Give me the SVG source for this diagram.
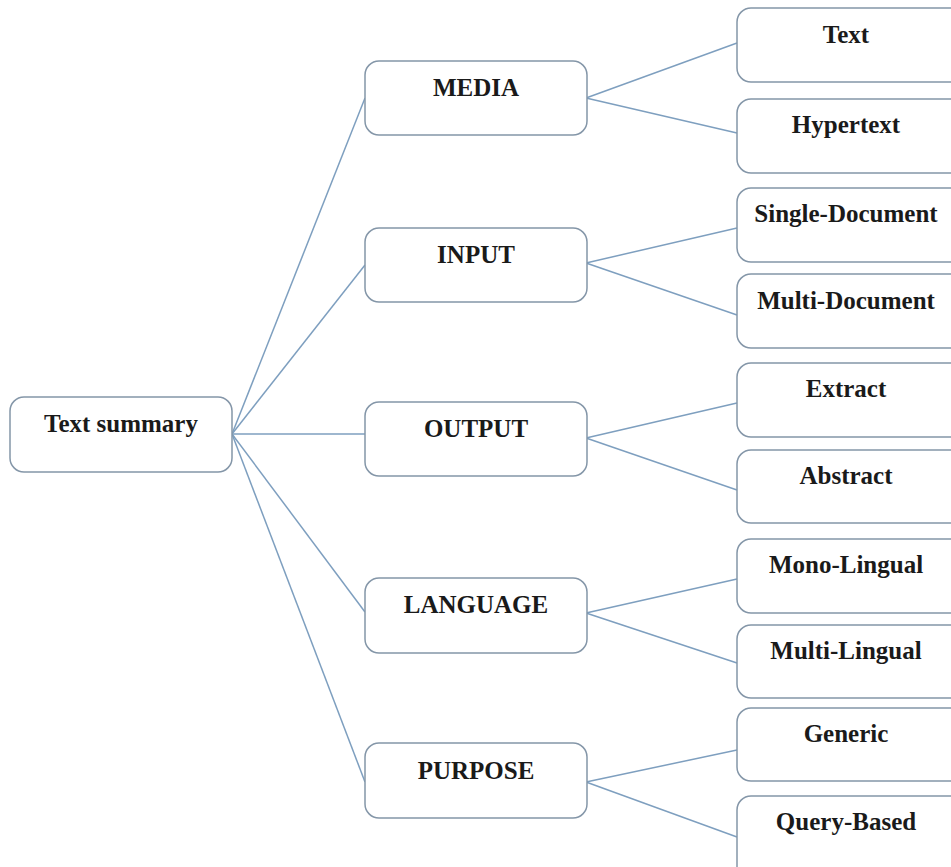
<svg xmlns="http://www.w3.org/2000/svg" width="951" height="867" viewBox="0 0 951 867">
  <style>
    .box { fill: #ffffff; stroke: #8496a8; stroke-width: 1.5; }
    .edge { fill: none; stroke: #7e9fbf; stroke-width: 1.5; }
    .label { font-family: "Liberation Serif", "Times New Roman", serif; font-weight: bold; font-size: 25px; fill: #1a1a1a; text-anchor: middle; }
  </style>
  <rect x="0" y="0" width="951" height="867" fill="#ffffff"/>

  <!-- connectors -->
  <g id="connectors">
    <line class="edge" x1="232" y1="434" x2="365" y2="98"/>
    <line class="edge" x1="232" y1="434" x2="365" y2="265"/>
    <line class="edge" x1="232" y1="434" x2="365" y2="434"/>
    <line class="edge" x1="232" y1="434" x2="365" y2="612"/>
    <line class="edge" x1="232" y1="434" x2="365" y2="782"/>

    <line class="edge" x1="586" y1="98" x2="737" y2="43"/>
    <line class="edge" x1="586" y1="98" x2="737" y2="133"/>
    <line class="edge" x1="586" y1="263" x2="737" y2="228"/>
    <line class="edge" x1="586" y1="263" x2="737" y2="315"/>
    <line class="edge" x1="586" y1="438" x2="737" y2="403"/>
    <line class="edge" x1="586" y1="438" x2="737" y2="490"/>
    <line class="edge" x1="586" y1="613" x2="737" y2="579"/>
    <line class="edge" x1="586" y1="613" x2="737" y2="663"/>
    <line class="edge" x1="586" y1="782" x2="737" y2="750"/>
    <line class="edge" x1="586" y1="782" x2="737" y2="837"/>
  </g>

  <!-- root -->
  <g id="node-text-summary">
    <rect class="box" x="10" y="397" width="222" height="75" rx="14"/>
    <text class="label" x="121" y="432">Text summary</text>
  </g>

  <!-- categories -->
  <g id="node-media">
    <rect class="box" x="365" y="61" width="222" height="74" rx="14"/>
    <text class="label" x="476" y="96">MEDIA</text>
  </g>
  <g id="node-input">
    <rect class="box" x="365" y="228" width="222" height="74" rx="14"/>
    <text class="label" x="476" y="263">INPUT</text>
  </g>
  <g id="node-output">
    <rect class="box" x="365" y="402" width="222" height="74" rx="14"/>
    <text class="label" x="476" y="437">OUTPUT</text>
  </g>
  <g id="node-language">
    <rect class="box" x="365" y="578" width="222" height="75" rx="14"/>
    <text class="label" x="476" y="613">LANGUAGE</text>
  </g>
  <g id="node-purpose">
    <rect class="box" x="365" y="743" width="222" height="75" rx="14"/>
    <text class="label" x="476" y="779">PURPOSE</text>
  </g>

  <!-- leaves -->
  <g id="node-text">
    <rect class="box" x="737" y="8" width="240" height="74" rx="14"/>
    <text class="label" x="846" y="43">Text</text>
  </g>
  <g id="node-hypertext">
    <rect class="box" x="737" y="99" width="240" height="74" rx="14"/>
    <text class="label" x="846" y="133">Hypertext</text>
  </g>
  <g id="node-single-document">
    <rect class="box" x="737" y="188" width="240" height="74" rx="14"/>
    <text class="label" x="846" y="222">Single-Document</text>
  </g>
  <g id="node-multi-document">
    <rect class="box" x="737" y="274" width="240" height="74" rx="14"/>
    <text class="label" x="846" y="309">Multi-Document</text>
  </g>
  <g id="node-extract">
    <rect class="box" x="737" y="363" width="240" height="74" rx="14"/>
    <text class="label" x="846" y="397">Extract</text>
  </g>
  <g id="node-abstract">
    <rect class="box" x="737" y="450" width="240" height="73" rx="14"/>
    <text class="label" x="846" y="484">Abstract</text>
  </g>
  <g id="node-mono-lingual">
    <rect class="box" x="737" y="539" width="240" height="74" rx="14"/>
    <text class="label" x="846" y="573">Mono-Lingual</text>
  </g>
  <g id="node-multi-lingual">
    <rect class="box" x="737" y="625" width="240" height="73" rx="14"/>
    <text class="label" x="846" y="659">Multi-Lingual</text>
  </g>
  <g id="node-generic">
    <rect class="box" x="737" y="708" width="240" height="73" rx="14"/>
    <text class="label" x="846" y="742">Generic</text>
  </g>
  <g id="node-query-based">
    <rect class="box" x="737" y="796" width="240" height="90" rx="14"/>
    <text class="label" x="846" y="830">Query-Based</text>
  </g>
</svg>
